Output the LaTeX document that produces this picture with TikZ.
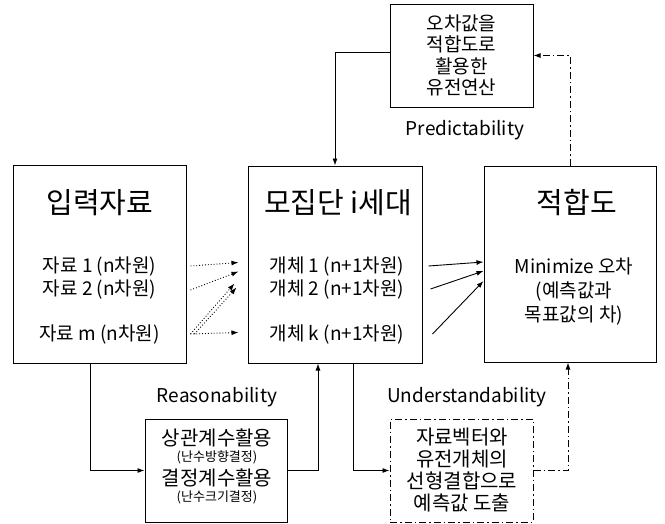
\documentclass[tikz,border=0pt]{standalone}
\usepackage{fontspec}
\setmainfont{Noto Sans CJK KR}
\usetikzlibrary{arrows.meta}
\begin{document}
\begin{tikzpicture}[x=1pt,y=-1pt,
  box/.style={draw,line width=1pt,inner sep=0pt},
  ttl/.style={font=\fontsize{29}{32}\selectfont},
  txt/.style={font=\fontsize{19}{22}\selectfont},
  smalltxt/.style={font=\fontsize{13}{15}\selectfont},
  lbl/.style={font=\fontsize{19}{22}\selectfont},
  arr/.style={line width=0.9pt,-{Latex[length=7pt,width=5pt]}},
  dotarr/.style={line width=0.9pt,dotted,-{Latex[length=7pt,width=5pt]}},
  dd/.style={dash pattern=on 7pt off 3pt on 1.5pt off 3pt}
]
\useasboundingbox (0,0) rectangle (665,523);

% input box
\node[box,minimum width=173pt,minimum height=198pt] (inp) at (99.5,264) {};
\node[ttl] (inpT) at (100,203) {입력자료};
\node[txt] (d1) at (99.5,266) {자료 1 (n차원)};
\node[txt] (d2) at (99.5,290) {자료 2 (n차원)};
\node[txt] (dm) at (99.5,334) {자료 m (n차원)};

% population box
\node[box,minimum width=174pt,minimum height=197pt] (pop) at (335,264.5) {};
\node[ttl] (popT) at (338,203) {모집단 i세대};
\node[txt] (p1) at (337,266) {개체 1 (n+1차원)};
\node[txt] (p2) at (337,289) {개체 2 (n+1차원)};
\node[txt] (pk) at (337,334) {개체 k (n+1차원)};

% fitness box
\node[box,minimum width=172pt,minimum height=196pt] (fit) at (570,264) {};
\node[ttl] (fitT) at (577,203) {적합도};
\node[align=center,font=\fontsize{19}{24}\selectfont] (fitX) at (574,291) {Minimize 오차\\(예측값과\\목표값의 차)};

% top box
\node[box,minimum width=143pt,minimum height=103pt] (gen) at (461.5,55.5) {};
\node[align=center,font=\fontsize{19}{21.5}\selectfont] (genX) at (461.5,55.5) {오차값을\\적합도로\\활용한\\유전연산};
\node[lbl] (pred) at (465,130) {Predictability};

% bottom left box
\node[box,minimum width=142pt,minimum height=103pt] (cor) at (216,470.5) {};
\node[font=\fontsize{20}{22}\selectfont] (c1) at (217,438) {상관계수활용};
\node[smalltxt] (c2) at (217,457) {(난수방향결정)};
\node[font=\fontsize{20}{22}\selectfont] (c3) at (217,478) {결정계수활용};
\node[smalltxt] (c4) at (217,497) {(난수크기결정)};
\node[lbl] (reas) at (217,397) {Reasonability};

% bottom right box
\node[box,dd,minimum width=143pt,minimum height=103pt] (lin) at (461.5,470.5) {};
\node[align=center,font=\fontsize{20}{22}\selectfont] (linX) at (462,470) {자료벡터와\\유전개체의\\선형결합으로\\예측값 도출};
\node[lbl] (und) at (467,397) {Understandability};

% connectors
\draw[arr] ([yshift=3.5pt]gen.west) -| (pop.north);
\draw[arr,dd] (fit.north) |- (gen.east);
\draw[arr] ([xshift=-9.5pt]inp.south) |- (cor.west);
\draw[arr] (cor.east) -| ([xshift=-17pt]pop.south);
\draw[arr] ([xshift=18pt]pop.south) |- (lin.west);
\draw[arr,dd] (lin.east) -| ([xshift=-2pt]fit.south);

% input -> population (dotted)
\coordinate (a1) at ([xshift=-9pt,yshift=2pt]pop.west);
\coordinate (a2) at ([xshift=-9pt,yshift=-7pt]pop.west);
\coordinate (a3) at ([xshift=-13pt,yshift=-19pt]pop.west);
\coordinate (a4) at ([xshift=-11pt,yshift=-23pt]pop.west);
\coordinate (a5) at ([xshift=-9pt,yshift=-68pt]pop.west);
\draw[dotarr] ([xshift=4pt]inp.east |- d1) -- (a1);
\draw[dotarr] ([xshift=4pt]inp.east |- d2) -- (a2);
\draw[dotarr] ([xshift=4pt]inp.east |- dm) -- (a3);
\draw[dotarr] ([xshift=8pt]inp.east |- dm) -- (a4);
\draw[dotarr] ([xshift=4pt]inp.east |- dm) -- (a5);

% population -> fitness
\coordinate (b1) at ([yshift=2pt]fit.west);
\coordinate (b2) at ([yshift=-7pt]fit.west);
\coordinate (b3) at ([yshift=-17pt]fit.west);
\draw[arr] ([xshift=6pt]pop.east |- p1) -- (b1);
\draw[arr] ([xshift=8pt]pop.east |- p2) -- (b2);
\draw[arr] ([xshift=10pt]pop.east |- pk) -- (b3);
\end{tikzpicture}
\end{document}
